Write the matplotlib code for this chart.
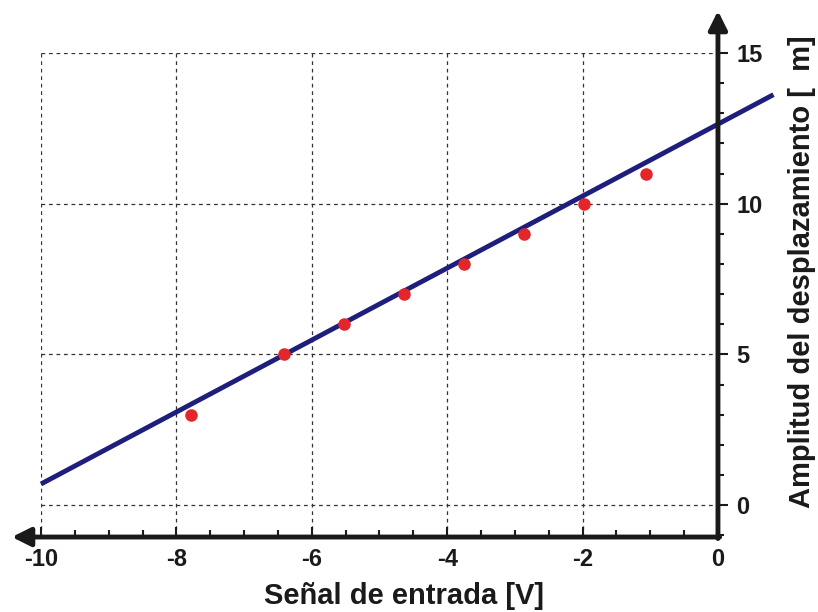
import numpy as np
import matplotlib.pyplot as plt

plt.rcParams['font.family'] = ['Liberation Sans', 'DejaVu Sans']
plt.rcParams['font.weight'] = 'bold'

# measured points
senal = [-7.78, -6.41, -5.52, -4.64, -3.75, -2.87, -1.98, -1.06]
amplitud = [3, 5, 6, 7, 8, 9, 10, 11]

# fitted line
fit_x = [-10.0, 0.82]
fit_y = [0.7, 13.62]

x_ticks = [-10, -8, -6, -4, -2, 0]
y_ticks = [0, 5, 10, 15]

fig = plt.figure(figsize=(8.18, 6.12), dpi=100)
ax = fig.add_axes([0.0501, 0.1225, 0.8276, 0.7908])

xmin, xmax = -10, 0
ymin, ymax = -1.06, 15

ax.set_xlim(xmin, xmax)
ax.set_ylim(ymin, ymax)

for s in ax.spines.values():
    s.set_visible(False)

# dashed grid
ax.set_xticks(x_ticks)
ax.set_yticks(y_ticks)
ax.set_xticks(np.arange(-10, 0.01, 0.5), minor=True)
ax.set_yticks(np.arange(-1, 15.01, 1), minor=True)
ax.grid(True, which='major', color='#333333', linestyle=(0, (3, 3)), linewidth=0.9)

# fit line and data
ax.plot(fit_x, fit_y, color='#1e1e7c', linewidth=3.5, clip_on=False, zorder=3,
        solid_capstyle='butt')
ax.plot(senal, amplitud, 'o', color='#e3262a', markersize=8, zorder=4)

# axis lines with arrows
arrow = dict(arrowstyle='-|>', lw=3.5, color='#1a1a1a', mutation_scale=28,
             shrinkA=0, shrinkB=0)
ax.annotate('', xy=(-10.43, ymin), xytext=(xmax + 0.025, ymin),
            arrowprops=arrow, annotation_clip=False)
ax.annotate('', xy=(xmax, 16.4), xytext=(xmax, ymin - 0.05),
            arrowprops=arrow, annotation_clip=False)

# ticks
ax.yaxis.tick_right()
ax.tick_params(axis='y', which='major', direction='out', length=7, width=1.5,
               pad=6, labelsize=17, colors='#1a1a1a')
ax.tick_params(axis='y', which='minor', direction='out', length=4, width=1.5,
               colors='#1a1a1a')
ax.tick_params(axis='x', which='major', direction='in', length=7, width=1.5,
               pad=8, labelsize=17, colors='#1a1a1a')
ax.tick_params(axis='x', which='minor', direction='in', length=5, width=1.5,
               colors='#1a1a1a')

ax.set_xticklabels(['-10', '-8', '-6', '-4', '-2', '0'], fontweight='bold')
ax.set_yticklabels(['0', '5', '10', '15'], fontweight='bold')

fig.text(0.494, 0.026, 'Señal de entrada [V]', ha='center', va='center',
         fontsize=21, fontweight='bold', color='#1a1a1a')
fig.text(0.980, 0.556, 'Amplitud del desplazamiento [  m]', ha='center',
         va='center', rotation=90, fontsize=21, fontweight='bold', color='#1a1a1a')

fig.savefig('out.png', dpi=100)
